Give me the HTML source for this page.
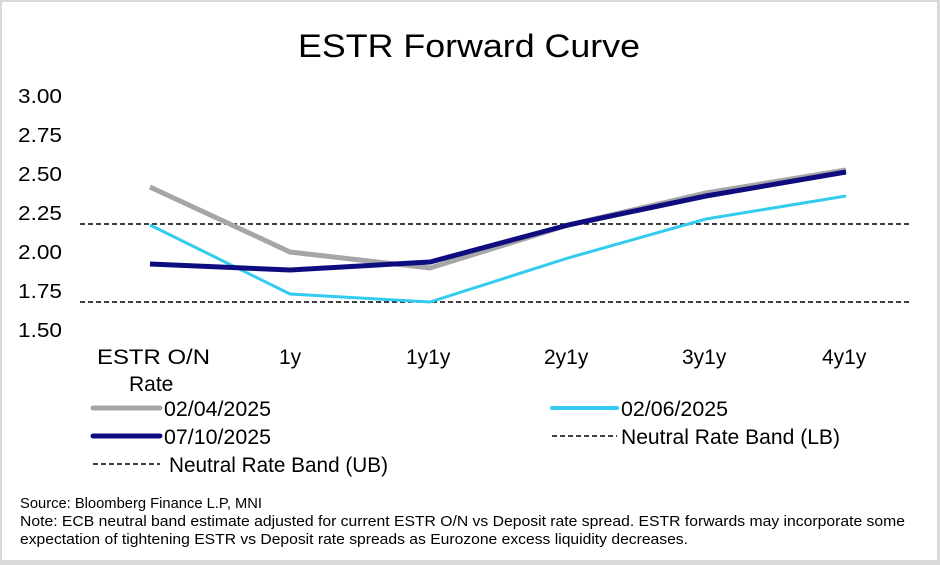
<!DOCTYPE html>
<html><head><style>
html,body{margin:0;padding:0;background:#fff;}
svg{display:block;font-family:"Liberation Sans",Arial,sans-serif;}
</style></head><body>
<svg width="940" height="565" xmlns="http://www.w3.org/2000/svg">
<rect x="0" y="0" width="940" height="565" fill="#d9d9d9"/>
<rect x="2" y="2" width="935" height="558" fill="#fff"/>
<text x="298" y="57" font-size="32" textLength="342" lengthAdjust="spacingAndGlyphs" fill="#000">ESTR Forward Curve</text>
<g font-size="20" fill="#000">
<text x="18" y="103" textLength="44" lengthAdjust="spacingAndGlyphs">3.00</text>
<text x="18" y="142" textLength="44" lengthAdjust="spacingAndGlyphs">2.75</text>
<text x="18" y="181" textLength="44" lengthAdjust="spacingAndGlyphs">2.50</text>
<text x="18" y="220" textLength="44" lengthAdjust="spacingAndGlyphs">2.25</text>
<text x="18" y="259" textLength="44" lengthAdjust="spacingAndGlyphs">2.00</text>
<text x="18" y="298" textLength="44" lengthAdjust="spacingAndGlyphs">1.75</text>
<text x="18" y="337" textLength="44" lengthAdjust="spacingAndGlyphs">1.50</text>
</g>
<g font-size="21" fill="#000">
<text x="97" y="364" textLength="113" lengthAdjust="spacingAndGlyphs">ESTR O/N</text>
<text x="129" y="391">Rate</text>
<text x="279" y="364">1y</text>
<text x="406" y="364">1y1y</text>
<text x="544" y="364">2y1y</text>
<text x="682" y="364">3y1y</text>
<text x="822" y="364">4y1y</text>
</g>
<line x1="80" y1="224" x2="910" y2="224" stroke="#000" stroke-width="1.5" stroke-dasharray="5,3"/>
<line x1="80" y1="302" x2="910" y2="302" stroke="#000" stroke-width="1.5" stroke-dasharray="5,3"/>
<polyline points="150,187 290,252 430,268 568,225 706,193 846,170" fill="none" stroke="#a6a6a6" stroke-width="5"/>
<polyline points="150,225 290,294 430,302 568,258 706,219 846,196" fill="none" stroke="#33ccee" stroke-width="3"/>
<polyline points="150,264 290,270 430,262 568,225 706,196 846,172" fill="none" stroke="#0d0d80" stroke-width="5"/>
<g font-size="21" fill="#000">
<line x1="93" y1="408" x2="160" y2="408" stroke="#a6a6a6" stroke-width="5" stroke-linecap="round"/>
<text x="164" y="416" textLength="107" lengthAdjust="spacingAndGlyphs">02/04/2025</text>
<line x1="93" y1="436" x2="160" y2="436" stroke="#0d0d80" stroke-width="5" stroke-linecap="round"/>
<text x="164" y="444" textLength="107" lengthAdjust="spacingAndGlyphs">07/10/2025</text>
<line x1="93" y1="464" x2="160" y2="464" stroke="#000" stroke-width="1.5" stroke-dasharray="5,3"/>
<text x="169" y="472" textLength="219" lengthAdjust="spacingAndGlyphs">Neutral Rate Band (UB)</text>
<line x1="552" y1="408" x2="617" y2="408" stroke="#33ccee" stroke-width="4" stroke-linecap="round"/>
<text x="621" y="416" textLength="107" lengthAdjust="spacingAndGlyphs">02/06/2025</text>
<line x1="552" y1="436" x2="617" y2="436" stroke="#000" stroke-width="1.5" stroke-dasharray="5,3"/>
<text x="621" y="444" textLength="219" lengthAdjust="spacingAndGlyphs">Neutral Rate Band (LB)</text>
</g>
<g font-size="15" fill="#000">
<text x="20" y="508" textLength="242" lengthAdjust="spacingAndGlyphs">Source: Bloomberg Finance L.P, MNI</text>
<text x="20" y="526" textLength="885" lengthAdjust="spacingAndGlyphs">Note: ECB neutral band estimate adjusted for current ESTR O/N vs Deposit rate spread. ESTR forwards may incorporate some</text>
<text x="20" y="544" textLength="668" lengthAdjust="spacingAndGlyphs">expectation of tightening ESTR vs Deposit rate spreads as Eurozone excess liquidity decreases.</text>
</g>
</svg>
</body></html>
